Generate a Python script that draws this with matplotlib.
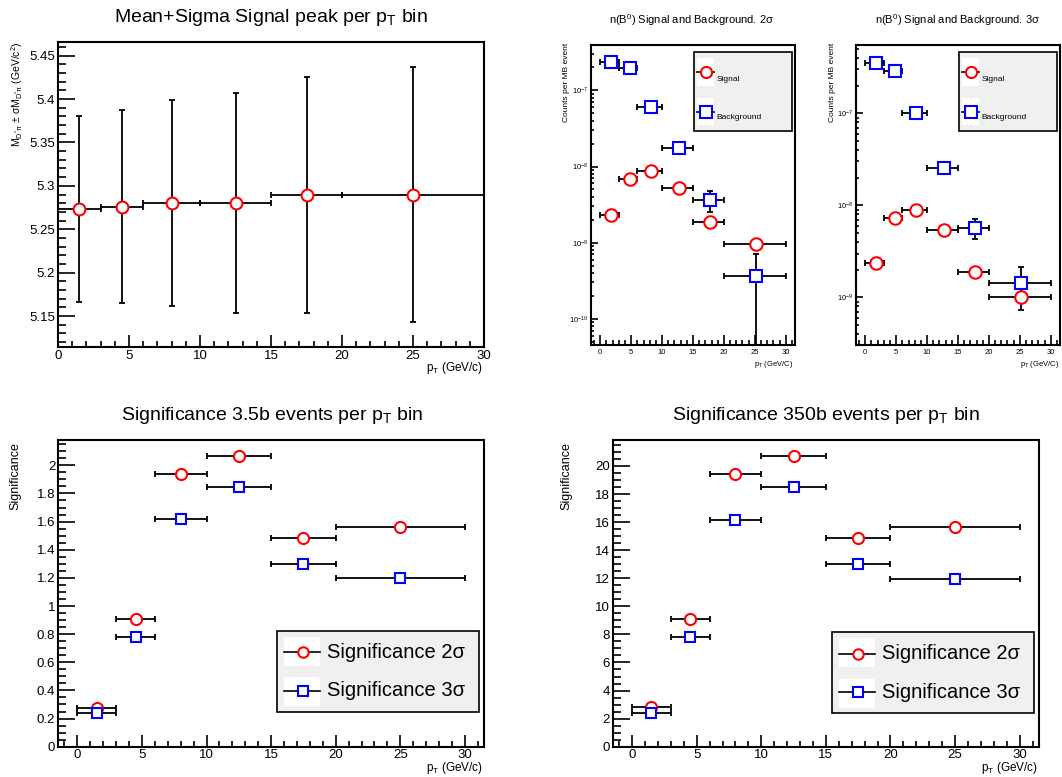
import matplotlib
matplotlib.use("Agg")
import matplotlib.pyplot as plt
import matplotlib.transforms as mtransforms
import numpy as np
from matplotlib.lines import Line2D
from matplotlib.patches import Rectangle
from matplotlib.ticker import LogLocator, MultipleLocator, NullFormatter

W, H = 1062, 777

# ---------------------------------------------------------------------------
# Data
# ---------------------------------------------------------------------------
BIN_LO = [0, 3, 6, 10, 15, 20]
BIN_HI = [3, 6, 10, 15, 20, 30]
PT_CENTER = [1.5, 4.5, 8, 12.5, 17.5, 25]
PT_MEAN = [1.75, 4.75, 8.25, 12.75, 17.8, 25.25]

MASS_MEAN = [5.273, 5.276, 5.280, 5.280, 5.289, 5.290]
MASS_SIGMA = [0.107, 0.111, 0.119, 0.127, 0.136, 0.147]

SIG_2S = [2.29e-9, 6.95e-9, 8.69e-9, 5.24e-9, 1.87e-9, 9.6e-10]
BKG_2S = [2.36e-7, 1.97e-7, 6.04e-8, 1.73e-8, 3.64e-9, 3.68e-10]
BKG_2S_ERR = [0, 0, 0, 0, 1.1e-9, 3.48e-10]
SIG_3S = [2.38e-9, 7.23e-9, 8.89e-9, 5.40e-9, 1.90e-9, 1.0e-9]
BKG_3S = [3.56e-7, 2.91e-7, 1.0e-7, 2.52e-8, 5.71e-9, 1.44e-9]
BKG_3S_ERR = [0, 0, 0, 0, 1.4e-9, 7.1e-10]

SIGNIF_35B_2S = [0.277, 0.910, 1.936, 2.069, 1.486, 1.562]
SIGNIF_35B_3S = [0.242, 0.780, 1.616, 1.844, 1.301, 1.197]
SIGNIF_350B_2S = [2.80, 9.12, 19.41, 20.74, 14.89, 15.65]
SIGNIF_350B_3S = [2.38, 7.81, 16.18, 18.48, 13.04, 11.97]

RED = "#ff0000"
BLUE = "#0000ff"
LEG_FILL = "#f0f0f0"

plt.rcParams.update({
    "font.family": ["Liberation Sans", "DejaVu Sans"],
    "mathtext.fontset": "custom",
    "mathtext.rm": "Liberation Sans",
    "mathtext.it": "Liberation Sans:italic",
    "mathtext.bf": "Liberation Sans:bold",
})

PT = r"p$_{\mathregular{T}}$"

fig = plt.figure(figsize=(W / 100, H / 100), dpi=100)
fig.patch.set_facecolor("white")
# pixel coordinates, origin top-left
PX = mtransforms.Affine2D().scale(1 / W, -1 / H).translate(0, 1) + fig.transFigure


def px_axes(x0, y0, x1, y1):
    return fig.add_axes([x0 / W, 1 - y1 / H, (x1 - x0) / W, (y1 - y0) / H])


def style_axes(ax, xlen, ylen, labelsize, xpad=2.0, ypad=2.0):
    for s in ax.spines.values():
        s.set_linewidth(1.5)
    ax.tick_params(which="both", direction="in", top=False, right=False,
                   width=1.2, labelsize=labelsize)
    ax.tick_params(axis="x", which="major", length=xlen, pad=xpad)
    ax.tick_params(axis="x", which="minor", length=xlen / 2)
    ax.tick_params(axis="y", which="major", length=ylen, pad=ypad)
    ax.tick_params(axis="y", which="minor", length=ylen / 2)
    ax.xaxis.set_major_locator(MultipleLocator(5))
    ax.xaxis.set_minor_locator(MultipleLocator(1))
    ax.set_xlim(-1.5, 31.5)


def draw_points(ax, x, y, yerr, marker, color, ms, lw=1.3, cap=2.5):
    x = np.asarray(x, dtype=float)
    xerr = [x - np.asarray(BIN_LO), np.asarray(BIN_HI) - x]
    ax.errorbar(x, y, xerr=xerr, yerr=yerr, fmt="none", ecolor="black",
                elinewidth=lw, capsize=cap, capthick=lw, zorder=2)
    ax.plot(x, y, ls="none", marker=marker, ms=ms, mfc="white", mec=color,
            mew=1.5, zorder=3)


def draw_legend(box, entries, patch_dx, marker_dx, text_dx, fs, ms, text_va):
    x0, y0, x1, y1 = box
    fig.add_artist(Rectangle((x0, y0), x1 - x0, y1 - y0, transform=PX,
                             facecolor=LEG_FILL, edgecolor="black", lw=1.2))
    for (py0, py1, ly, ty, marker, color, label) in entries:
        fig.add_artist(Rectangle((x0 + patch_dx[0], y0 + py0), patch_dx[1] - patch_dx[0],
                                 py1 - py0, transform=PX, facecolor="white",
                                 edgecolor="none"))
        fig.add_artist(Line2D([x0 + patch_dx[0], x0 + patch_dx[1]], [y0 + ly, y0 + ly],
                              transform=PX, color="black", lw=1.2))
        fig.add_artist(Line2D([x0 + marker_dx], [y0 + ly], transform=PX, ls="none",
                              marker=marker, ms=ms, mfc="white", mec=color, mew=1.5))
        fig.text(x0 + text_dx, y0 + ty, label, transform=PX, fontsize=fs,
                 ha="left", va=text_va)


def title(x, y, s, fs):
    fig.text(x, y, s, transform=PX, fontsize=fs, ha="center", va="center")


def ylabel(x, ytop, s, fs):
    fig.text(x, ytop, s, transform=PX, fontsize=fs, rotation=90,
             ha="center", va="top")


def xlabel(xright, y, fs):
    fig.text(xright, y, PT + " (GeV/c)", transform=PX, fontsize=fs,
             ha="right", va="center")


# ---------------------------------------------------------------------------
# Panel 1: mean +- sigma of the signal peak
# ---------------------------------------------------------------------------
ax1 = px_axes(58, 42, 484, 347)
style_axes(ax1, 9, 12, 9.5)
ax1.set_ylim(5.1143, 5.4657)
ax1.yaxis.set_minor_locator(MultipleLocator(0.01))
ax1.set_xlim(0, 30)
ax1.set_yticks([5.15, 5.2, 5.25, 5.3, 5.35, 5.4, 5.45])
ax1.set_yticklabels(["5.15", "5.2", "5.25", "5.3", "5.35", "5.4", "5.45"])
draw_points(ax1, PT_CENTER, MASS_MEAN, MASS_SIGMA, "o", RED, 8.5)
title(271, 17, "Mean+Sigma Signal peak per " + PT + " bin", 14)
ylabel(17, 42, r"M$_{\mathregular{D^{*}π}}$ ± σM$_{\mathregular{D^{*}π}}$"
       r" (GeV/c$^{\mathregular{2}}$)", 7.5)
xlabel(483, 368, 8.5)

# ---------------------------------------------------------------------------
# Panels 2-3: signal and background yields (log scale)
# ---------------------------------------------------------------------------
small_panels = [
    ((591, 45, 795, 344.5), (4.6e-11, 3.94e-7), SIG_2S, BKG_2S, BKG_2S_ERR,
     r"n(B$^{\mathregular{0}}$) Signal and Background. 2σ", 692, 567, 793),
    ((856, 44.5, 1060, 344.5), (3.08e-10, 5.6e-7), SIG_3S, BKG_3S, BKG_3S_ERR,
     r"n(B$^{\mathregular{0}}$) Signal and Background. 3σ", 958, 832, 1059),
]
for rect, ylim, sig, bkg, bkg_err, ttl, tx, ylx, xrx in small_panels:
    ax = px_axes(*rect)
    style_axes(ax, 7, 5, 5.5, xpad=3.0, ypad=1.5)
    ax.set_yscale("log")
    ax.set_ylim(*ylim)
    ax.yaxis.set_major_locator(LogLocator(base=10))
    ax.yaxis.set_minor_locator(LogLocator(base=10, subs=np.arange(2, 10)))
    ax.yaxis.set_minor_formatter(NullFormatter())
    draw_points(ax, PT_MEAN, bkg, bkg_err, "s", BLUE, 9, lw=1.3, cap=2.2)
    draw_points(ax, PT_MEAN, sig, None, "o", RED, 9, lw=1.3, cap=2.2)
    title(tx, 20, ttl, 8)
    ylabel(ylx, 43, "Counts per MB event", 6)
    fig.text(xrx, 364, PT + " (GeV/C)", transform=PX, fontsize=5.5,
             ha="right", va="center")
    x0 = rect[0] + 102.5
    draw_legend((x0, 52.3, x0 + 98, 130.7),
                [(5.7, 33.7, 20, 28.4, "o", RED, "Signal"),
                 (45.4, 72.7, 59.4, 67, "s", BLUE, "Background")],
                (3.5, 20.5), 12, 23, 6, 8, "baseline")

# ---------------------------------------------------------------------------
# Panels 4-5: significance
# ---------------------------------------------------------------------------
big_panels = [
    ((58, 440, 484.3, 746.7), 2.18, 0.2, 0.05, SIGNIF_35B_2S, SIGNIF_35B_3S,
     "Significance 3.5b events per " + PT + " bin", 272, 15.7, (277, 630.7, 479, 711.7)),
    ((612.7, 440, 1039, 746.7), 21.85, 2, 0.5, SIGNIF_350B_2S, SIGNIF_350B_3S,
     "Significance 350b events per " + PT + " bin", 826, 566, (832, 632.3, 1033.7, 712.7)),
]
for rect, ytop, ymaj, ymin, s2, s3, ttl, tx, ylx, box in big_panels:
    ax = px_axes(*rect)
    style_axes(ax, 9, 12, 9.5)
    ax.set_ylim(0, ytop)
    ax.yaxis.set_major_locator(MultipleLocator(ymaj))
    ax.yaxis.set_minor_locator(MultipleLocator(ymin))
    ax.yaxis.set_major_formatter(plt.FuncFormatter(lambda v, p: f"{v:g}"))
    draw_points(ax, PT_CENTER, s2, None, "o", RED, 8)
    draw_points(ax, PT_CENTER, s3, None, "s", BLUE, 7.5)
    title(tx, 415, ttl, 14)
    ylabel(ylx, 441.7, "Significance", 9)
    xlabel(rect[2] - 1, 768, 8.5)
    draw_legend(box,
                [(6, 35, 21.6, 21.6, "o", RED, "Significance 2σ"),
                 (46.6, 75.3, 60, 60, "s", BLUE, "Significance 3σ")],
                (7, 43), 26.3, 50.3, 14.5, 7.5, "center")

fig.savefig("out.png", dpi=100)
